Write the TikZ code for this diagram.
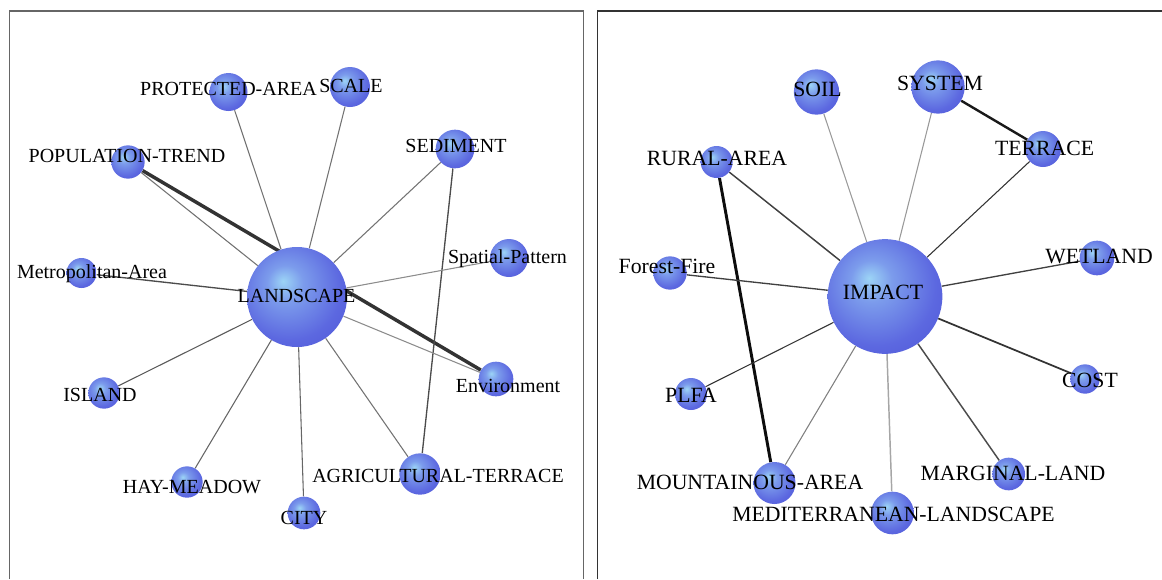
\documentclass[tikz,border=0pt]{standalone}
\usepackage{fontspec}
\setmainfont{Liberation Serif}
\pgfdeclarelayer{bg}
\pgfsetlayers{bg,main}
\definecolor{bA}{HTML}{9CD4F6}
\definecolor{bB}{HTML}{7C9CEC}
\definecolor{bC}{HTML}{5C68E0}
\definecolor{bD}{HTML}{4A50D4}
\definecolor{bE}{HTML}{3B3EC2}
\pgfdeclareradialshading{bubble}{\pgfpoint{-7bp}{8bp}}{color(0bp)=(bA); color(9bp)=(bB); color(26bp)=(bC); color(44bp)=(bD); color(54bp)=(bE); color(60bp)=(bE)}
\tikzset{
  ball/.style={circle, inner sep=0pt, shading=bubble, minimum size=#1},
  lt/.style={font=\fontsize{15}{16}\selectfont, inner sep=0pt, anchor=base},
  rt/.style={font=\fontsize{16.3}{17}\selectfont, inner sep=0pt, anchor=base},
  thin edge/.style={draw=#1, line width=0.8pt},
  frame/.style={draw=#1, line width=1.1pt}
}
\begin{document}
\begin{tikzpicture}[x=0.75pt,y=-0.75pt]
\useasboundingbox (0,0) rectangle (1162,579);
% frames
\coordinate (f1) at (9.5,579); \coordinate (f2) at (9.5,11); \coordinate (f3) at (583.5,11); \coordinate (f4) at (583.5,579);
\draw[frame=black!60] (f1) -- (f2) -- (f3) -- (f4);
\coordinate (g1) at (597.5,579); \coordinate (g2) at (597.5,11); \coordinate (g3) at (1162,11);
\draw[frame=black!80] (g1) -- (g2) -- (g3);
% ---- left panel nodes ----
\node[ball=75pt] (land) at (297,297) {};
\node[ball=28.5pt] (prot) at (228.5,92) {};
\node[ball=30pt] (scale) at (350,87) {};
\node[ball=25pt] (pop) at (128,162) {};
\node[ball=29pt] (sed) at (455,149) {};
\node[ball=28.5pt] (spat) at (509,258) {};
\node[ball=22.5pt] (metro) at (81.5,273) {};
\node[ball=26pt] (env) at (496,379) {};
\node[ball=23.5pt] (isl) at (104,393) {};
\node[ball=23.5pt] (hay) at (187,482) {};
\node[ball=24.5pt] (city) at (304,513) {};
\node[ball=31pt] (agri) at (420,474) {};
% ---- right panel nodes ----
\node[ball=86pt] (imp) at (885,296.5) {};
\node[ball=34pt] (soil) at (816.5,92) {};
\node[ball=40pt] (sys) at (938,87) {};
\node[ball=27pt] (ter) at (1043,149) {};
\node[ball=24pt] (rur) at (716.6,162) {};
\node[ball=26pt] (wet) at (1097,258) {};
\node[ball=25pt] (ff) at (670,273) {};
\node[ball=24pt] (plfa) at (691,394) {};
\node[ball=22pt] (cost) at (1085,379) {};
\node[ball=31.5pt] (mount) at (774.5,483) {};
\node[ball=32pt] (med) at (892.5,513) {};
\node[ball=24.5pt] (marg) at (1008.7,474) {};
% ---- edges ----
\begin{pgfonlayer}{bg}
\draw[thin edge=black!55] (prot) -- (land);
\draw[thin edge=black!55] (scale) -- (land);
\draw[thin edge=black!55] (pop) -- (land);
\draw[draw=black!80, line width=2.6pt] (pop) -- (env);
\draw[thin edge=black!55] (sed) -- (land);
\draw[draw=black!70, line width=1pt] (sed) -- (agri);
\draw[thin edge=black!45] (spat) -- (land);
\draw[draw=black!70, line width=1pt] (metro) -- (land);
\draw[thin edge=black!65] (isl) -- (land);
\draw[thin edge=black!60] (hay) -- (land);
\draw[thin edge=black!60] (city) -- (land);
\draw[thin edge=black!55] (agri) -- (land);
\draw[thin edge=black!45] (env) -- (land);
\draw[thin edge=black!40] (soil) -- (imp);
\draw[thin edge=black!40] (sys) -- (imp);
\draw[draw=black!90, line width=1.8pt] (sys) -- (ter);
\draw[thin edge=black!80] (ter) -- (imp);
\draw[draw=black!75, line width=1.1pt] (rur) -- (imp);
\draw[draw=black!95, line width=2.2pt] (rur) -- (mount);
\draw[draw=black!75, line width=1pt] (ff) -- (imp);
\draw[draw=black!75, line width=1pt] (wet) -- (imp);
\draw[thin edge=black!80] (plfa) -- (imp);
\draw[draw=black!80, line width=1.3pt] (cost) -- (imp);
\draw[draw=black!70, line width=1.1pt] (marg) -- (imp);
\draw[draw=black!35, line width=1.1pt] (med) -- (imp);
\draw[thin edge=black!50] (mount) -- (imp);
\end{pgfonlayer}
% ---- labels ----
\node[lt] (land-l) at (296.5,302.5) {LANDSCAPE};
\node[lt] (prot-l) at (228.5,95) {PROTECTED-AREA};
\node[lt] (scale-l) at (351,92.5) {SCALE};
\node[lt] (pop-l) at (127,162.5) {POPULATION-TREND};
\node[lt] (sed-l) at (456,152.5) {SEDIMENT};
\node[lt] (spat-l) at (507.5,263) {Spatial-Pattern};
\node[lt] (metro-l) at (92,278.5) {Metropolitan-Area};
\node[lt] (env-l) at (508,392.5) {Environment};
\node[lt] (isl-l) at (100,401.5) {ISLAND};
\node[lt] (hay-l) at (192,493) {HAY-MEADOW};
\node[lt] (city-l) at (304,524) {CITY};
\node[lt] (agri-l) at (438,482) {AGRICULTURAL-TERRACE};
\node[rt] (imp-l) at (883,299.5) {IMPACT};
\node[rt] (soil-l) at (817.5,96) {SOIL};
\node[rt] (sys-l) at (940,90) {SYSTEM};
\node[rt] (ter-l) at (1044.5,155) {TERRACE};
\node[rt] (rur-l) at (717,165) {RURAL-AREA};
\node[rt] (wet-l) at (1099,263) {WETLAND};
\node[rt] (ff-l) at (667,273) {Forest-Fire};
\node[rt] (plfa-l) at (691,402) {PLFA};
\node[rt] (cost-l) at (1090,387) {COST};
\node[rt] (mount-l) at (750,489) {MOUNTAINOUS-AREA};
\node[rt] (med-l) at (893.5,521) {MEDITERRANEAN-LANDSCAPE};
\node[rt] (marg-l) at (1013,480) {MARGINAL-LAND};
\end{tikzpicture}
\end{document}
